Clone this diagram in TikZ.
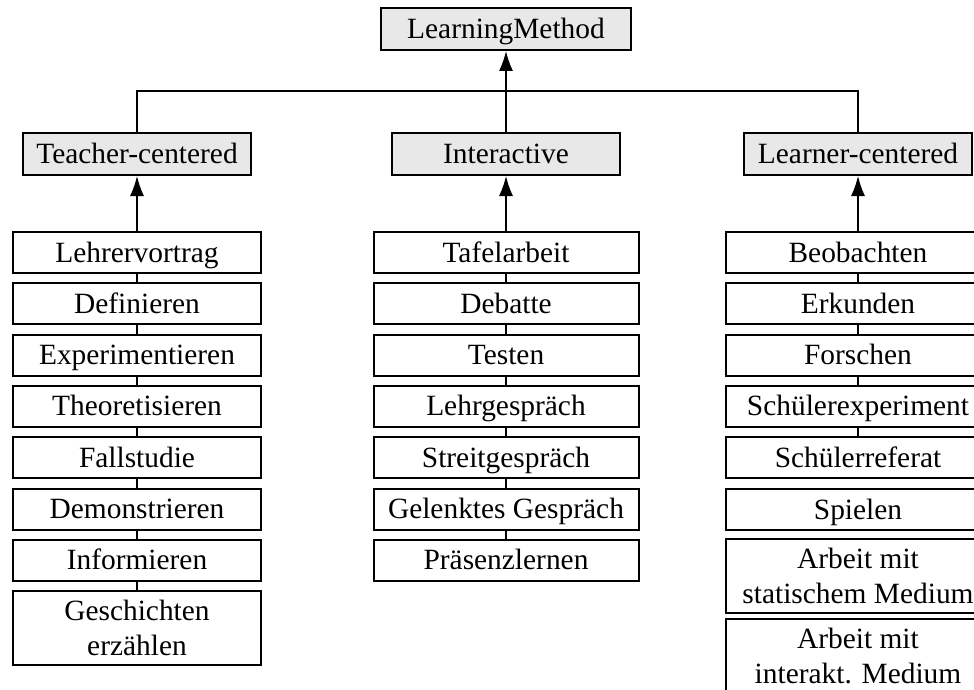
\documentclass[tikz,border=0pt]{standalone}
\usepackage{fontspec}
\setmainfont{Liberation Serif}
\usepackage{tikz}
\usetikzlibrary{arrows.meta, positioning}

\definecolor{catgray}{RGB}{232,232,232}

\tikzset{
    catbox/.style={draw, line width=1pt, fill=catgray, rectangle, minimum width=114pt, minimum height=21pt, inner sep=0pt, text height=9.3pt, text depth=0pt},
    itembox/.style={draw, line width=1pt, fill=white, rectangle, minimum height=20.5pt, inner sep=0pt, text height=9.5pt, text depth=0pt},
    tallbox/.style={draw, line width=1pt, fill=white, rectangle, minimum height=37pt, inner sep=0pt, align=center},
    link/.style={line width=0.75pt},
    up/.style={link, -{Latex[length=10pt, width=7pt]}}
}

\begin{document}
\begin{tikzpicture}[x=0.5pt, y=-0.5pt, font=\fontsize{14.7}{17.2}\selectfont]

            \useasboundingbox (0,0) rectangle (974,690);
            \clip (0,0) rectangle (974,690);

            % Draw the root and the three groups
            \node[catbox, minimum width=125pt] (root) at (506,29) {LearningMethod};
            \node[catbox] (teacher) at (137,154) {Teacher-centered};
            \node[catbox] (inter) at (506,154) {Interactive};
            \node[catbox] (learner) at (858,154) {Learner-centered};

            % Draw the teacher-centered methods
            \node[itembox, minimum width=124pt] (t1) at (137,252.5) {Lehrervortrag};
            \node[itembox, minimum width=124pt] (t2) at (137,303.8) {Definieren};
            \node[itembox, minimum width=124pt] (t3) at (137,355.1) {Experimentieren};
            \node[itembox, minimum width=124pt] (t4) at (137,406.4) {Theoretisieren};
            \node[itembox, minimum width=124pt] (t5) at (137,457.7) {Fallstudie};
            \node[itembox, minimum width=124pt] (t6) at (137,509) {Demonstrieren};
            \node[itembox, minimum width=124pt] (t7) at (137,560.3) {Informieren};
            \node[tallbox, minimum width=124pt] (t8) at (137,628) {Geschichten\\erzählen};

            % Draw the interactive methods
            \node[itembox, minimum width=132.5pt] (i1) at (506,252.5) {Tafelarbeit};
            \node[itembox, minimum width=132.5pt] (i2) at (506,303.8) {Debatte};
            \node[itembox, minimum width=132.5pt] (i3) at (506,355.1) {Testen};
            \node[itembox, minimum width=132.5pt] (i4) at (506,406.4) {Lehrgespräch};
            \node[itembox, minimum width=132.5pt] (i5) at (506,457.7) {Streitgespräch};
            \node[itembox, minimum width=132.5pt] (i6) at (506,509) {Gelenktes Gespräch};
            \node[itembox, minimum width=132.5pt] (i7) at (506,560.3) {Präsenzlernen};

            % Draw the learner-centered methods
            \node[itembox, minimum width=132pt] (l1) at (858,252.5) {Beobachten};
            \node[itembox, minimum width=132pt] (l2) at (858,303.8) {Erkunden};
            \node[itembox, minimum width=132pt] (l3) at (858,355.1) {Forschen};
            \node[itembox, minimum width=132pt] (l4) at (858,406.4) {Schülerexperiment};
            \node[itembox, minimum width=132pt] (l5) at (858,457.7) {Schülerreferat};
            \node[itembox, minimum width=132pt] (l6) at (858,509.5) {Spielen};
            \node[tallbox, minimum width=132pt] (l7) at (858,576) {Arbeit mit\\statischem Medium};
            \node[tallbox, minimum width=132pt] (l8) at (858,656) {Arbeit mit\\interakt. Medium};

            % Bus from the groups up to the root
            \coordinate (bus) at (506,91);
            \draw[link] (teacher.north) |- (bus) -| (learner.north);
            \draw[up] (inter) -- (root);

            % Arrows from the first method to each group
            \draw[up] (t1) -- (teacher);
            \draw[up] (i1) -- (inter);
            \draw[up] (l1) -- (learner);

            % Lines joining the methods
            \draw[link] (t1) -- (t2);
            \draw[link] (t2) -- (t3);
            \draw[link] (t3) -- (t4);
            \draw[link] (t4) -- (t5);
            \draw[link] (t5) -- (t6);
            \draw[link] (t6) -- (t7);
            \draw[link] (t7) -- (t8);

            \draw[link] (i1) -- (i2);
            \draw[link] (i2) -- (i3);
            \draw[link] (i3) -- (i4);
            \draw[link] (i4) -- (i5);
            \draw[link] (i5) -- (i6);
            \draw[link] (i6) -- (i7);

            \draw[link] (l1) -- (l2);
            \draw[link] (l2) -- (l3);
            \draw[link] (l3) -- (l4);
            \draw[link] (l4) -- (l5);

        \end{tikzpicture}
\end{document}
